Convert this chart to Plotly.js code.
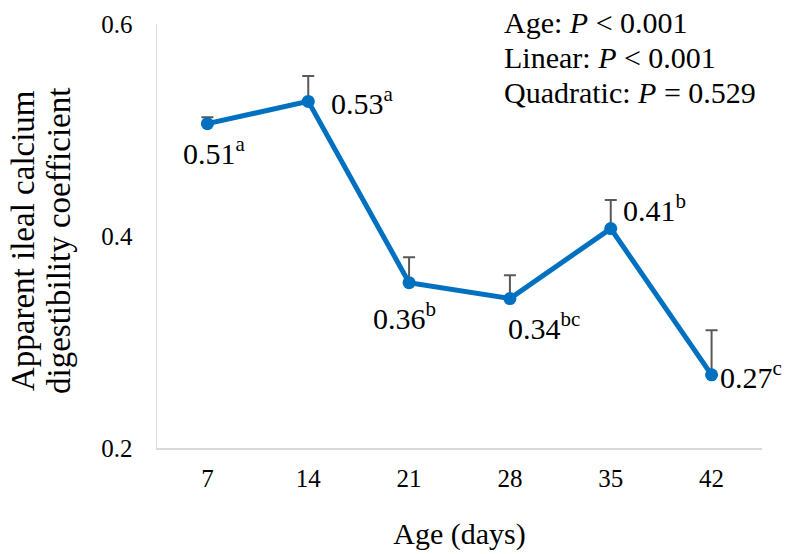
<!DOCTYPE html>
<html>
<head>
<meta charset="utf-8">
<script src="https://cdn.plot.ly/plotly-3.0.1.min.js"></script>
<style>html,body{margin:0;padding:0;background:#fff}#chart{width:785px;height:554px}</style>
</head>
<body>
<div id="chart"></div>
<script>
const ages = ['7', '14', '21', '28', '35', '42'];
const digestibility = [0.506, 0.527, 0.356, 0.341, 0.407, 0.269];
const sem = [0.006, 0.024, 0.024, 0.022, 0.027, 0.042];
const labels = ['0.51', '0.53', '0.36', '0.34', '0.41', '0.27'];
const letters = ['a', 'a', 'b', 'bc', 'b', 'c'];
const stats = ['Age: <i>P</i> < 0.001', 'Linear: <i>P</i> < 0.001', 'Quadratic: <i>P</i> = 0.529'];
const yTitleLines = ['Apparent ileal calcium', 'digestibility coefficient'];

const font = "'Liberation Serif', 'Times New Roman', serif";
const labelOffsets = [
  {dx: -26, dy: -27},
  {dx: 21, dy: 0},
  {dx: -38, dy: -33},
  {dx: -4, dy: -27},
  {dx: 10, dy: 21},
  {dx: 6, dy: 0}
];

const annotations = labels.map((t, i) => ({
  x: i, y: digestibility[i], xref: 'x', yref: 'y',
  text: t + '<sup>' + letters[i] + '</sup>',
  showarrow: false, xanchor: 'left', yanchor: 'middle',
  xshift: labelOffsets[i].dx, yshift: labelOffsets[i].dy,
  font: {family: font, size: 30, color: '#000'}
}));

stats.forEach((s, i) => annotations.push({
  x: 0, y: 1, xref: 'paper', yref: 'paper', xanchor: 'left', yanchor: 'middle',
  xshift: 345, yshift: 2 - i * 35, text: s, showarrow: false,
  font: {family: font, size: 30, color: '#000'}
}));

yTitleLines.forEach((s, i) => annotations.push({
  x: 0, y: 0.5, xref: 'paper', yref: 'paper', xanchor: 'center', yanchor: 'middle',
  xshift: -134 + i * 36, yshift: -5, textangle: -90, showarrow: false, text: s,
  font: {family: font, size: 33, color: '#000'}
}));

const trace = {
  x: ages, y: digestibility, type: 'scatter', mode: 'lines+markers',
  line: {color: '#0070C0', width: 5},
  marker: {color: '#0070C0', size: 13},
  error_y: {type: 'data', symmetric: false, array: sem, arrayminus: sem.map(() => 0),
    color: '#595959', thickness: 2, width: 6},
  cliponaxis: false
};

const layout = {
  width: 785, height: 554,
  margin: {l: 157, r: 23, t: 24, b: 106},
  paper_bgcolor: '#fff', plot_bgcolor: '#fff',
  showlegend: false,
  font: {family: font, color: '#000'},
  xaxis: {
    type: 'category', range: [-0.5, 5.5], showline: true, linecolor: '#d9d9d9', linewidth: 1.5,
    showgrid: false, zeroline: false, ticks: 'outside', ticklen: 7, tickcolor: 'rgba(0,0,0,0)',
    tickfont: {family: font, size: 25, color: '#000'},
    title: {text: 'Age (days)', font: {family: font, size: 30, color: '#000'}, standoff: 32}
  },
  yaxis: {
    range: [0.2, 0.6], dtick: 0.2, tickformat: '.1f', showline: true, linecolor: '#d9d9d9', linewidth: 1.5,
    showgrid: false, zeroline: false, ticks: 'outside', ticklen: 18, tickcolor: 'rgba(0,0,0,0)',
    tickfont: {family: font, size: 25, color: '#000'}
  },
  annotations: annotations
};

Plotly.newPlot('chart', [trace], layout, {displayModeBar: false, staticPlot: true});
</script>
</body>
</html>
